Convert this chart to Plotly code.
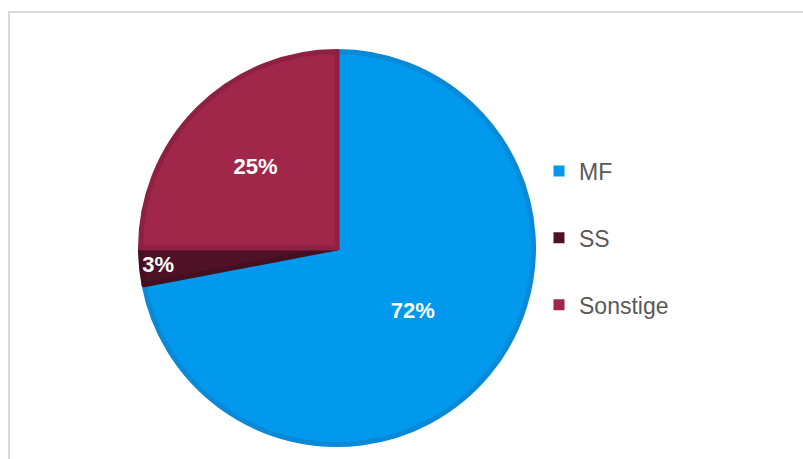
import plotly.graph_objects as go

labels = ["MF", "SS", "Sonstige"]
values = [72, 3, 25]
fill_colors = ["#0099EE", "#4E1126", "#A0264A"]
line_colors = ["#0A8AD6", "#440F21", "#8E2143"]

W, H = 803, 459
cx, cy, r = 337, 248, 196.5

fig = go.Figure()
fig.add_trace(go.Pie(
    labels=labels, values=values, sort=False, direction="clockwise", rotation=0,
    marker=dict(colors=fill_colors, line=dict(color=line_colors, width=5)),
    textinfo="percent", texttemplate="%{percent:.0%}",
    textposition="inside", insidetextorientation="horizontal",
    textfont=dict(family="Liberation Sans, Arial", size=22, color="white", weight="bold"),
    showlegend=False, hoverinfo="label+percent",
    domain=dict(x=[(cx - r) / W, (cx + r) / W], y=[1 - (cy + r) / H, 1 - (cy - r) / H]),
))
for lab, col in zip(labels, fill_colors):
    fig.add_trace(go.Scatter(
        x=[None], y=[None], mode="markers", name=lab, legendgroup=lab,
        marker=dict(symbol="square", size=11, color=col, line=dict(width=0)),
    ))

fig.update_layout(
    width=W, height=H, margin=dict(l=0, r=0, t=0, b=0),
    paper_bgcolor="white", plot_bgcolor="white",
    uniformtext=dict(minsize=22, mode="show"),
    xaxis=dict(visible=False), yaxis=dict(visible=False),
    legend=dict(x=539 / W, xanchor="left", y=1 - 238 / H, yanchor="middle",
                font=dict(family="Liberation Sans, Arial", size=23, color="#595959"),
                tracegroupgap=34, bgcolor="rgba(0,0,0,0)"),
    shapes=[dict(type="rect", xref="paper", yref="paper",
                 x0=9 / W, x1=1.02, y0=-0.02, y1=1 - 12 / H,
                 line=dict(color="#D9D9D9", width=2), fillcolor="rgba(0,0,0,0)", layer="below")],
)
fig.write_html("out.html")
